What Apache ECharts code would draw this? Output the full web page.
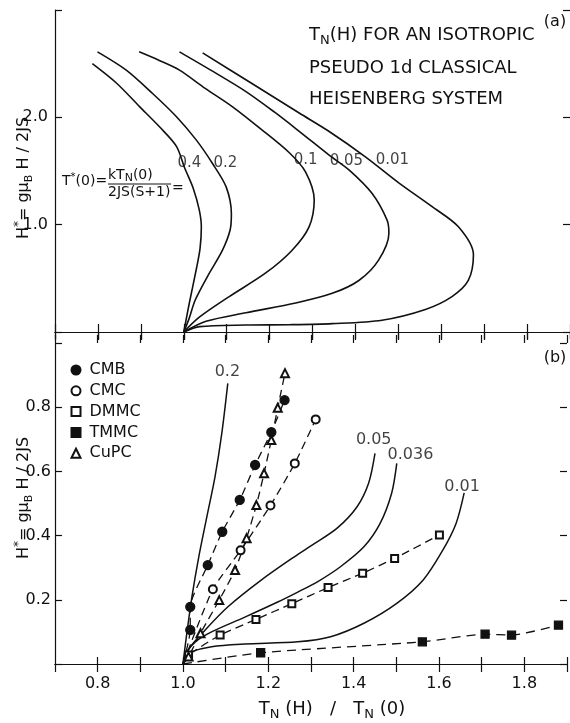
<!DOCTYPE html>
<html>
<head>
<meta charset="utf-8">
<script src="https://cdn.jsdelivr.net/npm/echarts@6/dist/echarts.min.js"></script>
<style>html,body{margin:0;padding:0;background:#fff}#c{width:570px;height:723px}</style>
</head>
<body>
<div id="c"></div>
<script>
// ---------- data: panel (a) theory curves, [T_N(H)/T_N(0), H*] ----------
const curveA_04 = [[1.0,0],[1.013,0.27],[1.029,0.58],[1.038,0.78],[1.041,0.98],[1.036,1.14],[1.022,1.34],[1.002,1.53],[0.983,1.73],[0.944,1.91],[0.897,2.10],[0.843,2.32],[0.787,2.50]];
const curveA_02 = [[1.0,0],[1.012,0.12],[1.027,0.30],[1.057,0.53],[1.090,0.76],[1.108,0.95],[1.111,1.10],[1.099,1.35],[1.067,1.57],[1.029,1.79],[0.982,2.01],[0.928,2.22],[0.866,2.44],[0.799,2.61]];
const curveA_01 = [[1.0,0],[1.037,0.14],[1.106,0.33],[1.191,0.55],[1.252,0.76],[1.292,0.98],[1.304,1.23],[1.284,1.49],[1.246,1.67],[1.180,1.89],[1.113,2.10],[1.050,2.27],[0.990,2.44],[0.943,2.53],[0.896,2.61]];
const curveA_005 = [[1.0,0],[1.052,0.10],[1.145,0.18],[1.261,0.27],[1.346,0.36],[1.408,0.48],[1.454,0.67],[1.478,0.92],[1.474,1.04],[1.439,1.29],[1.385,1.51],[1.338,1.65],[1.269,1.87],[1.211,2.05],[1.145,2.24],[1.067,2.43],[0.990,2.61]];
const curveA_001 = [[1.0,0],[1.037,0.05],[1.145,0.065],[1.245,0.068],[1.346,0.078],[1.462,0.11],[1.563,0.21],[1.625,0.33],[1.663,0.48],[1.675,0.72],[1.640,0.98],[1.578,1.17],[1.501,1.39],[1.424,1.63],[1.338,1.87],[1.269,2.04],[1.157,2.32],[1.044,2.60]];
const curvesA = [['0.4', curveA_04], ['0.2', curveA_02], ['0.1', curveA_01], ['0.05', curveA_005], ['0.01', curveA_001]];
const labelsA = [['0.4',1.013,1.575],['0.2',1.097,1.575],['0.1',1.284,1.60],['0.05',1.379,1.59],['0.01',1.486,1.60]];

// ---------- data: panel (b) theory curves ----------
const curveB_02 = [[1.0,0],[1.002,0.023],[1.009,0.096],[1.021,0.210],[1.037,0.334],[1.056,0.459],[1.075,0.583],[1.091,0.719],[1.105,0.874]];
const curveB_005 = [[1.0,0],[1.012,0.044],[1.052,0.106],[1.106,0.179],[1.184,0.262],[1.261,0.334],[1.307,0.374],[1.362,0.424],[1.408,0.490],[1.435,0.563],[1.450,0.656]];
const curveB_0036 = [[1.0,0],[1.009,0.037],[1.029,0.069],[1.067,0.100],[1.145,0.146],[1.222,0.193],[1.269,0.224],[1.315,0.256],[1.369,0.303],[1.424,0.365],[1.462,0.438],[1.489,0.532],[1.501,0.625]];
const curveB_001 = [[1.0,0],[1.006,0.022],[1.020,0.038],[1.067,0.054],[1.145,0.062],[1.269,0.069],[1.346,0.085],[1.424,0.127],[1.501,0.189],[1.563,0.262],[1.609,0.355],[1.640,0.438],[1.659,0.533]];
const curvesB = [['0.2', curveB_02], ['0.05', curveB_005], ['0.036', curveB_0036], ['0.01', curveB_001]];
const labelsB = [['0.2',1.104,0.910],['0.05',1.447,0.698],['0.036',1.533,0.651],['0.01',1.654,0.551]];

// ---------- data: panel (b) experiments ----------
const origin = [1.0, 0.0];
const CMB_x = [1.017,1.017,1.058,1.092,1.133,1.169,1.207,1.238];
const CMB_y = [0.106,0.178,0.308,0.412,0.511,0.620,0.722,0.822];
const CMC_x = [1.070,1.135,1.205,1.262,1.311];
const CMC_y = [0.233,0.354,0.494,0.625,0.762];
const DMMC_x = [1.013,1.087,1.171,1.255,1.340,1.421,1.496,1.601];
const DMMC_y = [0.028,0.090,0.139,0.188,0.238,0.283,0.329,0.402];
const TMMC_x = [1.182,1.561,1.708,1.770,1.880];
const TMMC_y = [0.035,0.069,0.093,0.090,0.121];
const CuPC_x = [1.013,1.041,1.085,1.122,1.149,1.172,1.190,1.207,1.222,1.239];
const CuPC_y = [0.023,0.096,0.199,0.293,0.392,0.495,0.594,0.698,0.798,0.906];

const FONT = 'DejaVu Sans';
const INK = '#111';

const chart = echarts.init(document.getElementById('c'), null, {renderer: 'canvas'});

function xAx(grid, pos, opts) {
  return Object.assign({
    type: 'value', gridIndex: grid, position: pos, min: 0.7, max: 1.9, interval: 0.1,
    axisLine: {show: true, lineStyle: {color: INK, width: 1.2}},
    axisTick: {show: true, inside: true, length: 7, lineStyle: {color: INK, width: 1.2}},
    axisLabel: {show: false}, splitLine: {show: false}
  }, opts || {});
}
const xLabelFmt = v => { const k = Math.round(v * 10); return (k % 2 === 0 && k >= 8 && k <= 18) ? (k / 10).toFixed(1) : ''; };

const xAxes = [
  xAx(0, 'bottom', {axisTick: {show: true, inside: true, length: 8, lineStyle: {color: INK, width: 1.2}}}),
  xAx(0, 'top'),
  xAx(0, 'bottom', {axisLine: {show: false}, axisTick: {show: true, inside: false, length: 8, lineStyle: {color: INK, width: 1.2}}}),
  xAx(1, 'bottom', {axisLabel: {show: true, formatter: xLabelFmt, color: INK, fontFamily: FONT, fontSize: 16, margin: 12, showMinLabel: false}}),
  xAx(1, 'top', {axisTick: {show: true, inside: true, length: 8, lineStyle: {color: INK, width: 1.2}}}),
  xAx(1, 'top', {axisLine: {show: false}, axisTick: {show: true, inside: false, length: 8, lineStyle: {color: INK, width: 1.2}}})
];

function yAx(grid, pos, min, max, interval, labelFmt, margin, showLine) {
  return {
    type: 'value', gridIndex: grid, position: pos, min: min, max: max, interval: interval,
    axisLine: {show: showLine !== false, lineStyle: {color: INK, width: 1.2}},
    axisTick: {show: true, inside: true, length: 7, lineStyle: {color: INK, width: 1.2}},
    axisLabel: labelFmt ? {show: true, formatter: labelFmt, color: INK, fontFamily: FONT, fontSize: 16, margin: margin} : {show: false},
    splitLine: {show: false}
  };
}
const yAxes = [
  yAx(0, 'left', 0, 3, 1, v => (v === 1 || v === 2) ? v.toFixed(1) : '', 7),
  yAx(0, 'right', 0, 3, 1, null, 0, false),
  yAx(1, 'left', 0, 1, 0.2, v => (v > 0.1 && v < 0.9) ? v.toFixed(1) : '', 4),
  yAx(1, 'right', 0, 1, 0.2, null, 0, false)
];

const series = [];
curvesA.forEach(([n, d]) => series.push({
  name: 'a' + n, type: 'line', xAxisIndex: 0, yAxisIndex: 0, data: d, smooth: 0.3,
  showSymbol: false, symbol: 'none', lineStyle: {color: INK, width: 1.6}, silent: true, z: 3
}));
curvesB.forEach(([n, d]) => series.push({
  name: 'b' + n, type: 'line', xAxisIndex: 3, yAxisIndex: 2, data: d, smooth: 0.3,
  showSymbol: false, symbol: 'none', lineStyle: {color: INK, width: 1.5}, silent: true, z: 3
}));

function expSeries(name, xs, ys, symbol, size, dash) {
  const data = [{value: origin, symbol: 'none'}].concat(xs.map((x, i) => [x, ys[i]]));
  return {
    name: name, type: 'line', xAxisIndex: 3, yAxisIndex: 2, data: data, smooth: 0.2,
    symbol: symbol, symbolSize: size, showSymbol: true, showAllSymbol: true,
    itemStyle: {color: INK, borderColor: INK, borderWidth: 1.3},
    lineStyle: {color: INK, width: 1.3, type: dash}, z: 4
  };
}
series.push(expSeries('CMB', CMB_x, CMB_y, 'circle', 9, [8, 5]));
series.push(expSeries('CMC', CMC_x, CMC_y, 'emptyCircle', 8, [8, 5]));
series.push(expSeries('DMMC', DMMC_x, DMMC_y, 'emptyRect', 7, [8, 5]));
series.push(expSeries('TMMC', TMMC_x, TMMC_y, 'rect', 8, [9, 6]));
series.push(expSeries('CuPC', CuPC_x, CuPC_y, 'emptyTriangle', 8, [8, 5]));

const lblStyle = {show: true, position: 'inside', formatter: '{b}', color: INK, fontFamily: FONT, fontSize: 15};
series.push({
  name: 'labelsA', type: 'scatter', xAxisIndex: 0, yAxisIndex: 0, symbolSize: 1, itemStyle: {color: 'rgba(0,0,0,0)'},
  data: labelsA.map(([n, x, y]) => ({name: n, value: [x, y]})), label: lblStyle, silent: true, z: 5
});
series.push({
  name: 'labelsB', type: 'scatter', xAxisIndex: 3, yAxisIndex: 2, symbolSize: 1, itemStyle: {color: 'rgba(0,0,0,0)'},
  data: labelsB.map(([n, x, y]) => ({name: n, value: [x, y]})), label: Object.assign({}, lblStyle, {fontSize: 16}), silent: true, z: 5
});

const rich = {
  a: {fontFamily: FONT, fontSize: 16, color: INK, lineHeight: 22},
  b: {fontFamily: FONT, fontSize: 11, color: INK, lineHeight: 11, verticalAlign: 'bottom'},
  s: {fontFamily: FONT, fontSize: 12, color: INK, lineHeight: 12, verticalAlign: 'top'}
};
const richX = {
  a: {fontFamily: FONT, fontSize: 18, color: INK, lineHeight: 24},
  b: {fontFamily: FONT, fontSize: 13, color: INK, lineHeight: 12, verticalAlign: 'bottom'}
};
const richT = {
  a: {fontFamily: FONT, fontSize: 18, color: INK, lineHeight: 24},
  b: {fontFamily: FONT, fontSize: 13, color: INK, lineHeight: 12, verticalAlign: 'bottom'}
};
const richF = {
  a: {fontFamily: FONT, fontSize: 14, color: INK, lineHeight: 18},
  b: {fontFamily: FONT, fontSize: 11, color: INK, lineHeight: 10, verticalAlign: 'bottom'},
  s: {fontFamily: FONT, fontSize: 10, color: INK, lineHeight: 10, verticalAlign: 'top'}
};
function txt(x, y, text, r, align, rot) {
  return {type: 'text', x: x, y: y, rotation: rot || 0, silent: true, z: 10,
    style: {text: text, rich: r, align: align || 'left', verticalAlign: 'middle', fill: INK}};
}
const yName = '{a|H}{s|*}{a|= gμ}{b|B}{a| H / 2JS}';
const graphics = [
  txt(24, 178, yName, rich, 'center', Math.PI / 2),
  txt(24, 498, yName, rich, 'center', Math.PI / 2),
  txt(332, 709, '{a|T}{b|N}{a| (H)   /   T}{b|N}{a| (0)}', richX, 'center'),
  txt(309, 35, '{a|T}{b|N}{a|(H) FOR AN ISOTROPIC}', richT, 'left'),
  txt(309, 68, '{a|PSEUDO 1d CLASSICAL}', richT, 'left'),
  txt(309, 99, '{a|HEISENBERG SYSTEM}', richT, 'left'),
  txt(555, 22, '{a|(a)}', rich, 'center'),
  txt(555, 358, '{a|(b)}', rich, 'center'),
  txt(62, 181, '{a|T}{s|*}{a|(0)=}', richF, 'left'),
  txt(108, 175, '{a|kT}{b|N}{a|(0)}', richF, 'left'),
  txt(108, 192, '{a|2JS(S+1)}', richF, 'left'),
  txt(172, 188, '{a|=}', richF, 'left'),
  {type: 'line', silent: true, z: 10, shape: {x1: 108, y1: 184, x2: 171, y2: 184}, style: {stroke: INK, lineWidth: 1.2}}
];

chart.setOption({
  animation: false,
  backgroundColor: '#fff',
  grid: [
    {left: 55, top: 10, width: 517, height: 322, containLabel: false},
    {left: 55, top: 343, width: 517, height: 321, containLabel: false}
  ],
  xAxis: xAxes,
  yAxis: yAxes,
  legend: {
    show: true, orient: 'vertical', left: 65.5, top: 357, itemWidth: 9, itemHeight: 9, itemGap: 4.8,
    selectedMode: false,
    textStyle: {fontFamily: FONT, fontSize: 16, color: INK, lineHeight: 16, padding: [0, 0, 0, 4]},
    data: [
      {name: 'CMB', icon: 'circle'},
      {name: 'CMC', icon: 'emptyCircle'},
      {name: 'DMMC', icon: 'emptyRect'},
      {name: 'TMMC', icon: 'rect'},
      {name: 'CuPC', icon: 'emptyTriangle'}
    ]
  },
  series: series,
  graphic: graphics
});
</script>
</body>
</html>
